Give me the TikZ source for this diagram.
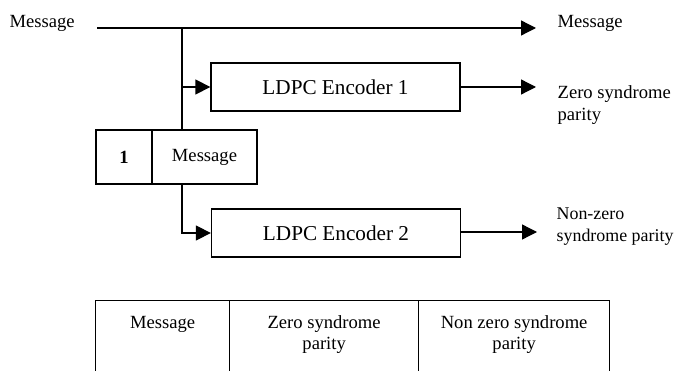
\documentclass[tikz,border=0pt]{standalone}
\usepackage{fontspec}
\setmainfont{Liberation Serif}
\usetikzlibrary{arrows.meta,calc}
\begin{document}
\begin{tikzpicture}[x=1pt,y=-1pt,
  line width=1.3pt,
  lbl/.style={inner sep=0pt,font=\fontsize{18.6}{21.5}\selectfont},
  encbox/.style={draw,minimum width=249pt,minimum height=48pt,inner sep=0pt,font=\fontsize{21.2}{24}\selectfont},
  cellbox/.style={draw,inner sep=0pt},
  arr/.style={-{Triangle[length=15pt,width=15pt]}}]
\useasboundingbox (0,0) rectangle (677,371);
\clip (0,0) rectangle (677,371);
% labels
\node[lbl,anchor=base west] (msgin) at (9,28) {Message};
\node[lbl,anchor=base west] (msgout) at (557,28) {Message};
% encoders
\node[encbox] (enc1) at (335.5,87) {LDPC Encoder 1};
\node[encbox] (enc2) at (336,233) {LDPC Encoder 2};
% small box
\node[draw,minimum width=56pt,minimum height=54pt,inner sep=0pt,font=\fontsize{18.6}{21}\selectfont\bfseries] (one) at (124,157) {1};
\node[draw,minimum width=105pt,minimum height=54pt,inner sep=0pt,font=\fontsize{18.6}{21}\selectfont] (msgbox) at (204.5,157) {Message};
% outputs (base anchor = baseline of last line)
\node[lbl,anchor=base west,align=left] (zsp) at (557,120.5) {Zero syndrome\\parity};
\node[lbl,anchor=base west,align=left,font=\fontsize{17.9}{21.5}\selectfont] (nzsp) at (556,241.5) {Non-zero\\syndrome parity};
% coordinates
\coordinate (start) at (97,28);
\coordinate (tip0) at (536,28);
\coordinate (j1) at (182,28);
\coordinate (tip1) at (536,87);
\coordinate (tip2) at (537,232);
% connectors
\draw[arr] (start) -- (tip0);
\draw[arr] (j1) |- (enc1.west);
\draw (enc1.west -| j1) -- (msgbox.north -| j1);
\draw[arr] (msgbox.south -| j1) |- (enc2.west);
\draw[arr] (enc1.east) -- (tip1);
\draw[arr] (enc2.east |- tip2) -- (tip2);
% table
\node[cellbox,anchor=north west,minimum width=134pt,minimum height=120pt] (c1) at (95,300) {};
\node[cellbox,anchor=north west,minimum width=189pt,minimum height=120pt] (c2) at (229,300) {};
\node[cellbox,anchor=north west,minimum width=191pt,minimum height=120pt] (c3) at (418,300) {};
\node[lbl,anchor=base] (t1) at ($(c1.north)+(0,28)$) {Message};
\node[lbl,anchor=base,align=center] (t2) at ($(c2.north)+(0,49.5)$) {Zero syndrome\\parity};
\node[lbl,anchor=base,align=center] (t3) at ($(c3.north)+(0,49.5)$) {Non zero syndrome\\parity};
\end{tikzpicture}
\end{document}
